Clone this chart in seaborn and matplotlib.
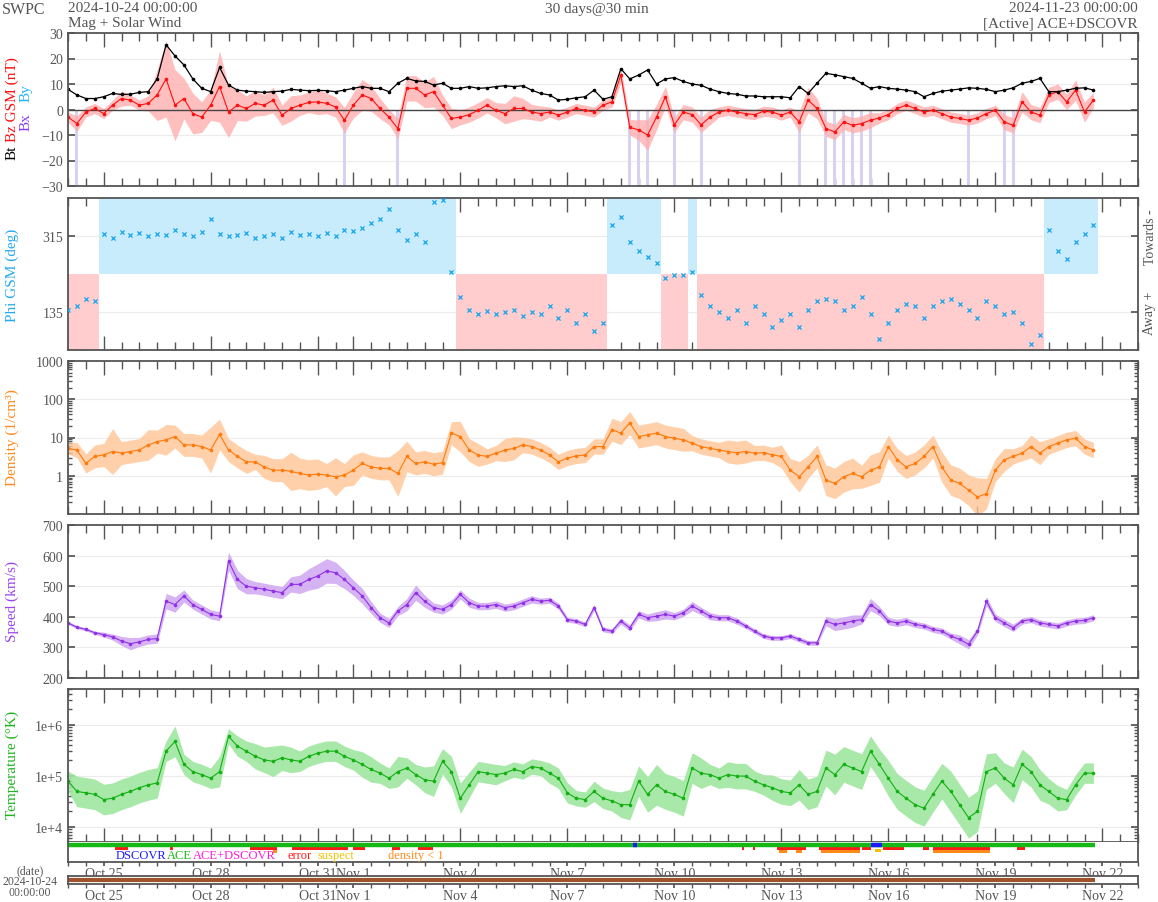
import numpy as np
import pandas as pd
import matplotlib
matplotlib.use("Agg")
import matplotlib.pyplot as plt
from matplotlib.ticker import FixedLocator, MultipleLocator, NullFormatter, LogLocator, FixedFormatter
import seaborn as sns

# ---------------- data: 6-hour samples, days since 2024-10-24 00:00 UTC ----------------
sample_step_days = 0.25

bt_nT = [7.9, 5.7, 4.3, 4.3, 5.0, 6.3, 5.9, 6.0, 6.7, 7.0, 12.0, 25.4,
         21.0, 17.5, 12.0, 8.3, 7.0, 16.5, 9.6, 7.6, 7.2, 7.0, 6.7, 7.0,
         7.2, 7.9, 7.6, 7.4, 7.5, 7.4, 7.0, 7.6, 8.3, 9.0, 8.3, 8.3,
         7.0, 10.3, 12.2, 11.2, 11.0, 9.6, 10.3, 8.3, 8.3, 9.0, 8.3, 8.5,
         9.0, 9.3, 9.0, 9.3, 7.6, 6.3, 5.7, 3.7, 4.0, 4.6, 5.0, 7.6,
         4.0, 5.0, 16.0, 12.0, 13.5, 15.5, 10.0, 12.0, 12.5, 11.0, 10.0, 9.5,
         8.0, 7.0, 6.3, 6.0, 5.3, 5.3, 5.0, 5.0, 5.0, 4.6, 9.0, 6.3,
         10.3, 14.2, 13.6, 12.9, 12.2, 10.3, 8.3, 9.0, 8.3, 8.0, 7.6, 7.0,
         5.0, 6.3, 7.2, 7.6, 8.0, 8.5, 8.3, 7.9, 7.0, 7.6, 8.5, 10.3,
         11.0, 12.2, 7.0, 7.0, 7.6, 8.3, 8.5, 7.6]

bz_nT = [-3, -5.5, -1, 0.4, -1.6, 1.7, 4.3, 3.7, 1.7, 2.4, 5.7, 12,
         1.7, 4.3, -1.6, -3, 1.7, 9, -1, 1.7, 0.4, 2.4, 1.7, 3.7,
         -2.2, 0.4, 1.7, 2.8, 3, 2.4, 1, -4.2, 1.7, 5.7, 4.3, 0.4,
         -3, -7.5, 8.3, 8.3, 5.7, 7, 1.7, -3.5, -3, -2, -0.3, 1.7,
         -0.3, -1.6, 0.4, 0.4, -1, -1.6, -1, -2.2, -1, 0.4, -0.3, -1,
         1.7, 3, 13.5, -7, -8, -10, -3, 5, -6, -1, -2, -6,
         -3, -1, -0.3, -1, -1.6, -2, -0.7, -1, -2.2, -1, -4.9, 3.7,
         0.4, -7.5, -8.8, -4.9, -6.2, -5.5, -4.2, -3.3, -2, 0.4, 1.7, 0.4,
         -1, -0.3, -1.6, -3, -3.5, -4.2, -3.3, -1.6, -0.3, -4.9, -6.2, 3,
         -1, -2.2, 5.7, 7, 3, 7.6, -1, 3.7]

bz_spread_nT = [2, 3, 2, 2, 2, 2, 3, 2, 2, 3, 10, 15, 14, 8, 8, 6,
                6, 14, 10, 6, 5, 5, 4, 5, 4, 5, 4, 4, 5, 4, 4, 5,
                5, 6, 5, 4, 3, 4, 5, 5, 5, 6, 4, 4, 3, 3, 3, 3,
                3, 4, 5, 4, 3, 3, 2, 2, 2, 2, 2, 2, 2, 2, 3, 3,
                4, 6, 5, 4, 3, 3, 3, 3, 3, 2, 2, 2, 2, 2, 2, 2,
                2, 2, 4, 5, 4, 3, 3, 3, 3, 3, 3, 2, 2, 2, 2, 2,
                2, 2, 2, 2, 2, 2, 2, 2, 2, 3, 3, 4, 3, 3, 3, 3,
                3, 4, 4, 3]

phi_deg = [140, 150, 165, 160, 320, 310, 325, 318, 322, 315, 320, 318,
           330, 320, 315, 325, 355, 320, 315, 318, 322, 310, 315, 320,
           310, 325, 318, 320, 315, 322, 315, 330, 328, 335, 345, 355,
           380, 330, 305, 320, 300, 395, 400, 230, 170, 140, 130, 138,
           130, 135, 140, 125, 135, 130, 150, 120, 140, 110, 130, 90,
           110, 340, 360, 300, 280, 265, 250, 215, 222, 222, 230, 175,
           150, 135, 120, 140, 110, 150, 130, 100, 115, 130, 100, 140,
           160, 165, 160, 140, 150, 170, 130, 70, 110, 140, 155, 150,
           120, 150, 160, 165, 155, 140, 120, 160, 150, 130, 135, 110,
           60, 80, 330, 280, 260, 300, 320, 340]

density_cm3 = [5.2, 4.7, 2.1, 3.2, 3.5, 4.3, 3.9, 4.3, 4.7, 6.4, 7.8, 8.7,
               10.6, 6.4, 6.4, 5.8, 4.7, 12, 4.7, 3.2, 2.3, 2.3, 1.7, 1.4,
               1.4, 1.3, 1.15, 1.04, 1.1, 1.04, 0.94, 1.04, 1.4, 2.1, 1.7, 1.56,
               1.56, 1.15, 3.2, 2.1, 2.3, 2.0, 2.2, 13, 10.6, 4.7, 3.5, 3.2,
               3.9, 4.7, 5.2, 6.4, 5.8, 4.7, 3.5, 2.3, 2.9, 3.3, 3.5, 5.8,
               5.8, 16, 13, 24, 10.6, 11.7, 13, 10.6, 9.6, 8.7, 7.1, 5.8,
               5.2, 4.7, 4.3, 4.0, 4.3, 3.9, 4.0, 3.5, 3.2, 1.4, 0.94, 1.7,
               3.2, 0.77, 0.63, 0.94, 1.15, 0.94, 1.4, 1.7, 5.8, 2.6, 1.7, 2.1,
               3.2, 5.8, 1.7, 0.77, 0.63, 0.42, 0.28, 0.34, 1.4, 2.6, 3.2, 3.9,
               5.8, 3.9, 5.8, 7.1, 8.7, 9.6, 5.8, 4.7]

density_spread_dex = [0.15, 0.2, 0.25, 0.3, 0.3, 0.6, 0.3, 0.3, 0.3, 0.4, 0.3, 0.4,
                      0.3, 0.3, 0.3, 0.3, 0.6, 0.4, 0.3, 0.3, 0.3, 0.2, 0.3, 0.3,
                      0.3, 0.5, 0.4, 0.4, 0.4, 0.3, 0.5, 0.3, 0.4, 0.3, 0.3, 0.3,
                      0.3, 0.6, 0.4, 0.3, 0.3, 0.3, 0.3, 0.3, 0.4, 0.3, 0.3, 0.2,
                      0.2, 0.3, 0.3, 0.2, 0.2, 0.2, 0.2, 0.2, 0.2, 0.2, 0.2, 0.2,
                      0.2, 0.3, 0.3, 0.3, 0.3, 0.3, 0.3, 0.3, 0.3, 0.3, 0.2, 0.2,
                      0.2, 0.2, 0.3, 0.3, 0.3, 0.2, 0.2, 0.2, 0.3, 0.3, 0.4, 0.3,
                      0.3, 0.4, 0.4, 0.4, 0.4, 0.3, 0.4, 0.4, 0.3, 0.3, 0.3, 0.3,
                      0.3, 0.3, 0.4, 0.4, 0.4, 0.4, 0.5, 0.4, 0.3, 0.3, 0.2, 0.2,
                      0.3, 0.3, 0.2, 0.2, 0.2, 0.2, 0.2, 0.2]

speed_kms = [380, 366, 359, 348, 342, 334, 321, 312, 318, 326, 329, 451,
             440, 468, 440, 424, 408, 402, 582, 522, 500, 495, 490, 484,
             479, 506, 506, 522, 533, 550, 544, 522, 495, 468, 430, 397,
             380, 419, 440, 479, 451, 430, 424, 440, 473, 446, 435, 435,
             440, 430, 435, 446, 457, 451, 454, 435, 391, 386, 375, 430,
             359, 353, 386, 364, 408, 397, 402, 408, 402, 413, 435, 419,
             402, 397, 397, 386, 370, 353, 337, 331, 331, 337, 326, 315,
             315, 386, 375, 380, 386, 391, 440, 419, 386, 380, 386, 375,
             370, 359, 353, 337, 326, 310, 353, 451, 397, 380, 364, 386,
             391, 380, 375, 370, 380, 386, 388, 397]

speed_spread_kms = [5, 5, 5, 5, 8, 10, 15, 20, 15, 15, 15, 25, 25, 20, 15, 15,
                    15, 15, 30, 30, 25, 20, 20, 20, 20, 25, 30, 35, 40, 40, 35, 30,
                    25, 25, 20, 15, 15, 15, 20, 25, 20, 15, 15, 15, 15, 15, 12, 12,
                    12, 12, 12, 12, 12, 10, 10, 10, 8, 8, 8, 10, 8, 8, 10, 10,
                    12, 12, 15, 15, 12, 12, 15, 12, 12, 10, 10, 10, 8, 8, 8, 8,
                    8, 8, 8, 8, 8, 15, 20, 20, 20, 15, 20, 15, 12, 12, 12, 10,
                    10, 10, 10, 10, 15, 15, 12, 15, 12, 12, 12, 10, 10, 10, 10, 10,
                    10, 10, 10, 10]

temperature_kK = [78, 49, 46, 43, 34, 36, 43, 49, 58, 66, 72, 302,
                  468, 166, 120, 105, 89, 120, 589, 380, 302, 240, 204, 191,
                  224, 204, 191, 240, 275, 302, 302, 240, 204, 166, 132, 112,
                  89, 120, 141, 105, 83, 78, 191, 120, 36, 66, 120, 112,
                  105, 112, 132, 120, 151, 141, 112, 89, 46, 36, 34, 49,
                  36, 32, 27, 27, 78, 43, 66, 49, 43, 36, 141, 112,
                  105, 89, 105, 98, 98, 78, 66, 58, 49, 46, 66, 43,
                  49, 141, 105, 166, 141, 120, 302, 166, 89, 49, 36, 27,
                  23, 43, 78, 49, 27, 15, 20, 120, 141, 89, 66, 166,
                  120, 66, 49, 36, 34, 66, 112, 112]

temperature_spread_dex = [0.2, 0.3, 0.3, 0.3, 0.3, 0.3, 0.3, 0.3, 0.3, 0.3, 0.3, 0.2,
                          0.3, 0.2, 0.2, 0.2, 0.2, 0.3, 0.15, 0.2, 0.2, 0.25, 0.25, 0.3,
                          0.25, 0.25, 0.2, 0.2, 0.2, 0.2, 0.2, 0.2, 0.2, 0.25, 0.25, 0.2,
                          0.2, 0.3, 0.2, 0.2, 0.25, 0.3, 0.25, 0.3, 0.3, 0.25, 0.2, 0.2,
                          0.2, 0.15, 0.15, 0.15, 0.15, 0.15, 0.2, 0.2, 0.2, 0.15, 0.15, 0.2,
                          0.2, 0.2, 0.25, 0.3, 0.3, 0.35, 0.4, 0.35, 0.35, 0.35, 0.3, 0.3,
                          0.2, 0.2, 0.25, 0.25, 0.25, 0.2, 0.2, 0.25, 0.25, 0.25, 0.3, 0.3,
                          0.3, 0.35, 0.4, 0.35, 0.35, 0.35, 0.3, 0.3, 0.35, 0.35, 0.35, 0.35,
                          0.35, 0.35, 0.35, 0.4, 0.4, 0.4, 0.4, 0.35, 0.3, 0.3, 0.35, 0.3,
                          0.3, 0.3, 0.25, 0.25, 0.2, 0.2, 0.2, 0.2]

# status bar intervals (days since start)
error_intervals = [(1.32, 1.68), (2.86, 2.94), (5.1, 5.86), (6.28, 7.85), (7.99, 8.33),
                   (9.08, 9.31), (9.81, 10.23), (18.9, 18.95), (19.2, 19.25), (19.88, 20.69),
                   (21.05, 22.2), (22.26, 22.51), (22.85, 23.44), (23.97, 24.14),
                   (24.25, 25.85), (26.6, 26.83)]
density_lt1_intervals = [(5.75, 5.86), (19.93, 20.16), (20.41, 20.58), (21.1, 22.2),
                         (24.25, 25.85)]
suspect_intervals = [(22.62, 22.8)]
dscovr_intervals = [(15.84, 15.95), (22.51, 22.82)]
data_end_day = 28.8

date_tick_days = [1, 4, 7, 8, 11, 14, 17, 20, 23, 26, 29]
date_tick_labels = ["Oct 25", "Oct 28", "Oct 31", "Nov 1", "Nov 4", "Nov 7",
                    "Nov 10", "Nov 13", "Nov 16", "Nov 19", "Nov 22"]

# ---------------- frame ----------------
n = len(bt_nT)
df = pd.DataFrame({
    "day": np.arange(n) * sample_step_days,
    "bt": bt_nT, "bz": bz_nT, "bz_spread": bz_spread_nT, "phi": phi_deg,
    "density": density_cm3, "dens_sp": density_spread_dex,
    "speed": speed_kms, "speed_sp": speed_spread_kms,
    "temp": np.array(temperature_kK) * 1000.0, "temp_sp": temperature_spread_dex,
})

sns.set_theme(style="white")
plt.rcParams["font.family"] = ["Liberation Serif", "DejaVu Serif"]

W, H = 1158, 903
fig = plt.figure(figsize=(W / 100, H / 100), dpi=100)
fig.patch.set_facecolor("white")
GREY = "#555555"
GRID = "#ececec"


def rect(top, bottom, left=68, right=1138):
    return [left / W, 1 - bottom / H, (right - left) / W, (bottom - top) / H]


def px2day(x):
    return (x - 68) / (1070 / 30)


def ftext(x, y, s, **kw):
    kw.setdefault("color", GREY)
    kw.setdefault("fontsize", 11)
    fig.text(x / W, 1 - y / H, s, **kw)


def style_panel(ax, labelbottom=False):
    ax.set_xlim(0, 30)
    ax.set_facecolor("white")
    for s in ax.spines.values():
        s.set_color(GREY)
        s.set_linewidth(1.3)
    ax.xaxis.set_major_locator(FixedLocator(date_tick_days))
    ax.xaxis.set_minor_locator(MultipleLocator(0.5))
    ax.tick_params(axis="x", which="both", direction="in", top=True, bottom=True,
                   labelbottom=labelbottom, colors=GREY)
    ax.tick_params(axis="x", which="major", length=10, width=1)
    ax.tick_params(axis="x", which="minor", length=6, width=1)
    ax.tick_params(axis="y", which="both", direction="in", left=True, right=True,
                   colors=GREY, labelsize=10, labelcolor=GREY)
    ax.tick_params(axis="y", which="major", length=5)
    ax.tick_params(axis="y", which="minor", length=3)
    ax.set_xlabel("")
    ax.set_ylabel("")


def style_bar(ax):
    ax.set_xlim(0, 30)
    ax.set_yticks([])
    for s in ax.spines.values():
        s.set_color(GREY)
        s.set_linewidth(1.3)
    ax.xaxis.set_major_locator(FixedLocator(date_tick_days))
    ax.xaxis.set_major_formatter(FixedFormatter(date_tick_labels))
    ax.xaxis.set_minor_locator(MultipleLocator(0.5))
    ax.tick_params(axis="x", which="both", direction="out", bottom=True, top=False,
                   colors=GREY, labelsize=10, labelcolor=GREY, pad=0.5)
    ax.tick_params(axis="x", which="major", length=3)
    ax.tick_params(axis="x", which="minor", length=3)


# ---------------- panel 1: Bt / Bz ----------------
ax1 = fig.add_axes(rect(34, 187))
south = df[df["bz"] < -4]
ax1.bar(south["day"], 30, bottom=-30, width=0.08, color="#d9d0f2", linewidth=0)
ax1.fill_between(df["day"], df["bz"] - df["bz_spread"], df["bz"] + df["bz_spread"],
                 color="#ffaaaa", alpha=0.75, linewidth=0)
ax1.axhline(0, color="#444444", lw=1.0)
sns.lineplot(data=df, x="day", y="bz", color="#ff1010", lw=0.8, marker="o",
             markersize=2.6, markeredgewidth=0, ax=ax1)
sns.lineplot(data=df, x="day", y="bt", color="black", lw=0.9, marker="o",
             markersize=2.6, markeredgewidth=0, ax=ax1)
ax1.set_ylim(-30, 30)
ax1.set_yticks([-30, -20, -10, 0, 10, 20, 30])
for v in [-20, -10, 10, 20]:
    ax1.axhline(v, color=GRID, lw=0.8, zorder=0)
style_panel(ax1)

# ---------------- panel 2: Phi ----------------
ax2 = fig.add_axes(rect(199, 351))
towards = df[df["phi"] >= 225]
away = df[df["phi"] < 225]
ax2.bar(towards["day"], 180, bottom=225, width=0.25, color="#c9ecfd", linewidth=0)
ax2.bar(away["day"], 180, bottom=45, width=0.25, color="#ffcdcd", linewidth=0)
sns.scatterplot(data=df, x="day", y="phi", marker="x", s=9, color="#18a6ee",
                linewidth=0.9, ax=ax2, zorder=3)
ax2.set_ylim(45, 405)
ax2.set_yticks([135, 315])
for v in [135, 315]:
    ax2.axhline(v, color=GRID, lw=0.8, zorder=0.5)
style_panel(ax2)

# ---------------- panel 3: Density ----------------
ax3 = fig.add_axes(rect(362, 515))
d = np.array(df["density"])
sp = np.array(df["dens_sp"])
ax3.fill_between(df["day"], d / 10 ** sp, d * 10 ** sp, color="#ffc594", alpha=0.8, linewidth=0)
sns.lineplot(data=df, x="day", y="density", color="#ff7a0a", lw=0.8, marker="o",
             markersize=2.6, markeredgewidth=0, ax=ax3)
ax3.set_yscale("log")
ax3.set_ylim(0.1, 1000)
ax3.yaxis.set_major_locator(FixedLocator([1, 10, 100, 1000]))
ax3.yaxis.set_major_formatter(FixedFormatter(["1", "10", "100", "1000"]))
ax3.yaxis.set_minor_locator(LogLocator(base=10, subs=np.arange(2, 10)))
ax3.yaxis.set_minor_formatter(NullFormatter())
for v in [1, 10, 100]:
    ax3.axhline(v, color=GRID, lw=0.8, zorder=0)
style_panel(ax3)

# ---------------- panel 4: Speed ----------------
ax4 = fig.add_axes(rect(526, 679))
ax4.fill_between(df["day"], df["speed"] - df["speed_sp"], df["speed"] + df["speed_sp"],
                 color="#cfa6f2", alpha=0.85, linewidth=0)
sns.lineplot(data=df, x="day", y="speed", color="#9130e6", lw=0.8, marker="o",
             markersize=2.6, markeredgewidth=0, ax=ax4)
ax4.set_ylim(200, 700)
ax4.set_yticks([200, 300, 400, 500, 600, 700])
for v in [300, 400, 500, 600]:
    ax4.axhline(v, color=GRID, lw=0.8, zorder=0)
style_panel(ax4)

# ---------------- panel 5: Temperature ----------------
ax5 = fig.add_axes(rect(690, 843))
T = np.array(df["temp"])
tsp = np.array(df["temp_sp"])
ax5.fill_between(df["day"], T / 10 ** tsp, T * 10 ** tsp, color="#9fe69f", alpha=0.9, linewidth=0)
sns.lineplot(data=df, x="day", y="temp", color="#12b012", lw=0.8, marker="o",
             markersize=2.6, markeredgewidth=0, ax=ax5)
ax5.set_yscale("log")
ax5.set_ylim(5e3, 5e6)
ax5.yaxis.set_major_locator(FixedLocator([1e4, 1e5, 1e6]))
ax5.yaxis.set_major_formatter(FixedFormatter(["1e+4", "1e+5", "1e+6"]))
ax5.yaxis.set_minor_locator(LogLocator(base=10, subs=np.arange(2, 10)))
ax5.yaxis.set_minor_formatter(NullFormatter())
for v in [1e4, 1e5, 1e6]:
    ax5.axhline(v, color=GRID, lw=0.8, zorder=0)
style_panel(ax5)

# ---------------- status bar ----------------
axs = fig.add_axes(rect(843, 863))
axs.set_ylim(20, 0)
for a, b in error_intervals:
    axs.fill_between([a, b], 4.5, 8.2, color="#ff1a1a", linewidth=0)
for a, b in density_lt1_intervals:
    axs.fill_between([a, b], 8.2, 10.8, color="#ff8a1a", linewidth=0)
for a, b in suspect_intervals:
    axs.fill_between([a, b], 7.0, 10.0, color="#f2c200", linewidth=0)
axs.hlines(3.2, 0, data_end_day, color="#16b816", lw=3.2)
for a, b in dscovr_intervals:
    axs.hlines(3.2, a, b, color="#1a1aff", lw=3.2)
style_bar(axs)
axs.spines["top"].set_visible(False)
legend_items = [(116, "DSCOVR", "#1a1aff"), (167, "ACE", "#16b816"),
                (193, "ACE+DSCOVR", "#ff1ad9"), (288, "error", "#ff1a1a"),
                (318, "suspect", "#f2c200"), (388, "density < 1", "#ff8a1a")]
for xp, s, c in legend_items:
    axs.text(px2day(xp), 13.4, s, color=c, fontsize=9, va="center", ha="left")

# ---------------- bottom date bar ----------------
axb = fig.add_axes(rect(877, 885))
axb.set_ylim(0, 1)
axb.hlines(0.5, 0, data_end_day, color="#a0522d", lw=3)
style_bar(axb)

# ---------------- header & labels ----------------
ftext(2, 10, "SWPC", va="center", ha="left", fontsize=11.5)
ftext(68, 9, "2024-10-24 00:00:00", va="center", ha="left")
ftext(68, 24, "Mag + Solar Wind", va="center", ha="left")
ftext(597, 9, "30 days@30 min", va="center", ha="center")
ftext(1138, 9, "2024-11-23 00:00:00", va="center", ha="right")
ftext(1138, 24, "[Active] ACE+DSCOVR", va="center", ha="right")

ftext(12, 153, "Bt", color="black", rotation=90, va="center", ha="center")
ftext(12, 100, "Bz GSM (nT)", color="#ff1010", rotation=90, va="center", ha="center")
ftext(26, 122, "Bx", color="#8a3ff0", rotation=90, va="center", ha="center")
ftext(26, 93, "By", color="#22b4f5", rotation=90, va="center", ha="center")
ftext(12, 275, "Phi GSM (deg)", color="#22aaee", rotation=90, va="center", ha="center")
ftext(1150, 237, "Towards -", rotation=90, va="center", ha="center", fontsize=10)
ftext(1150, 313, "Away +", rotation=90, va="center", ha="center", fontsize=10)
ftext(12, 438, "Density (1/cm\u00b3)", color="#ff8a1a", rotation=90, va="center", ha="center")
ftext(12, 602, "Speed (km/s)", color="#9a44ee", rotation=90, va="center", ha="center")
ftext(12, 765, "Temperature (\u00b0K)", color="#1fb51f", rotation=90, va="center", ha="center")

ftext(30, 871, "(date)", va="center", ha="center", fontsize=8.5)
ftext(30, 882, "2024-10-24", va="center", ha="center", fontsize=8.5)
ftext(30, 893, "00:00:00", va="center", ha="center", fontsize=8.5)

fig.savefig("out.png", dpi=100, facecolor="white")
